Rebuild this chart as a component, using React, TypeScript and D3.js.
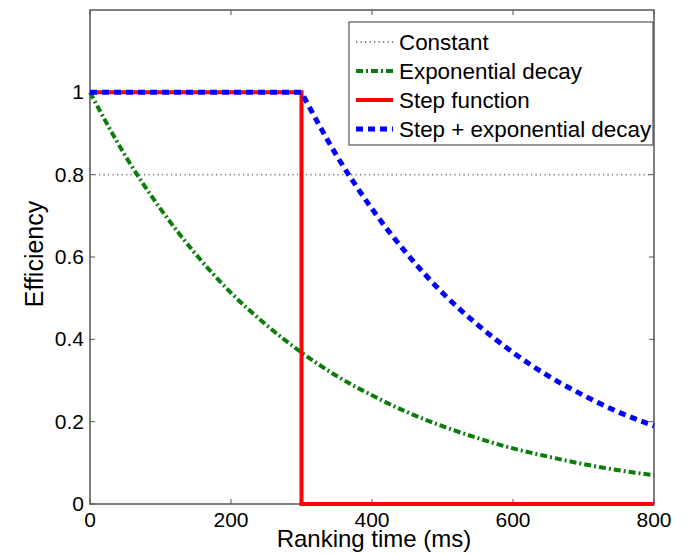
import React from "react";
import * as d3 from "d3";

const xTicks = [0, 200, 400, 600, 800];
const yTicks = [0, 0.2, 0.4, 0.6, 0.8, 1];
const yTickLabels = ["0", "0.2", "0.4", "0.6", "0.8", "1"];

const constantX = [0, 800];
const constantY = [0.8, 0.8];

const expX = [0, 50, 100, 150, 200, 250, 300, 350, 400, 450, 500, 550, 600, 650, 700, 750, 800];
const expY = [1, 0.846, 0.717, 0.607, 0.513, 0.435, 0.368, 0.311, 0.264, 0.223, 0.189, 0.16, 0.135, 0.115, 0.097, 0.082, 0.07];

const stepX = [0, 300, 300, 800];
const stepY = [1, 1, 0, 0];

const stepExpX = [0, 300, 350, 400, 450, 500, 550, 600, 650, 700, 750, 800];
const stepExpY = [1, 1, 0.846, 0.717, 0.607, 0.513, 0.435, 0.368, 0.311, 0.264, 0.223, 0.19];

const seriesNames = ["Constant", "Exponential decay", "Step function", "Step + exponential decay"];

const W = 689, H = 554;
const L = 90, R = 654, T = 10, B = 504;
const FONT = "'Liberation Sans', Arial, Helvetica, sans-serif";

export default function App() {
  const x = d3.scaleLinear().domain([0, 800]).range([L, R]);
  const y = d3.scaleLinear().domain([0, 1.2]).range([B, T]);

  const mk = (xs: number[], ys: number[], curve: any) =>
    d3.line<number>().x((_, i) => x(xs[i])).y((d) => y(d)).curve(curve)(ys) as string;

  // piecewise: linear until the knee (first index where x reaches 300), smooth afterwards
  const mkPiecewise = (xs: number[], ys: number[], knee: number) => {
    const k = xs.indexOf(knee);
    const a = mk(xs.slice(0, k + 1), ys.slice(0, k + 1), d3.curveLinear);
    const b = mk(xs.slice(k), ys.slice(k), d3.curveMonotoneX);
    return a + "L" + b.slice(1);
  };

  const styles = [
    { color: "#808080", width: 1.8, dash: "1.2,3.3" },
    { color: "#0a7d0a", width: 4, dash: "7,3,2,3" },
    { color: "#ff0000", width: 4, dash: "" },
    { color: "#0000ff", width: 5, dash: "7,5" },
  ];

  const paths = [
    mk(constantX, constantY, d3.curveLinear),
    mk(expX, expY, d3.curveMonotoneX),
    mk(stepX, stepY, d3.curveLinear),
    mkPiecewise(stepExpX, stepExpY, 300),
  ];

  const axisColor = "#555";
  const legX = 349, legY = 22, legW = 304, legH = 123;
  const legRows = [42, 71, 100, 129];

  return (
    <svg width={W} height={H} style={{ position: "absolute", left: 0, top: 0, background: "#fff" }} fontFamily={FONT}>
      <rect x={0} y={0} width={W} height={H} fill="#fff" />
      {/* box */}
      <rect x={L} y={T} width={R - L} height={B - T} fill="none" stroke={axisColor} strokeWidth={1.5} />
      {/* ticks */}
      {xTicks.map((t) => (
        <g key={"xt" + t}>
          <line x1={x(t)} x2={x(t)} y1={B} y2={B - 5} stroke={axisColor} strokeWidth={1} />
          <line x1={x(t)} x2={x(t)} y1={T} y2={T + 5} stroke={axisColor} strokeWidth={1} />
          <text x={x(t)} y={527} textAnchor="middle" fontSize={21} fill="#000">{t}</text>
        </g>
      ))}
      {yTicks.map((t, i) => (
        <g key={"yt" + t}>
          <line x1={L} x2={L + 5} y1={y(t)} y2={y(t)} stroke={axisColor} strokeWidth={1} />
          <line x1={R} x2={R - 5} y1={y(t)} y2={y(t)} stroke={axisColor} strokeWidth={1} />
          <text x={84} y={y(t) + 7} textAnchor="end" fontSize={21} fill="#000">{yTickLabels[i]}</text>
        </g>
      ))}
      {/* series */}
      {paths.map((p, i) => (
        <path key={"s" + i} d={p} fill="none" stroke={styles[i].color} strokeWidth={styles[i].width}
          strokeDasharray={styles[i].dash || undefined} />
      ))}
      {/* axis labels */}
      <text x={(L + R) / 2 + 2} y={547} textAnchor="middle" fontSize={24} fill="#000">Ranking time (ms)</text>
      <text transform={`translate(43,254) rotate(-90)`} textAnchor="middle" fontSize={25} fill="#000">Efficiency</text>
      {/* legend */}
      <rect x={legX} y={legY} width={legW} height={legH} fill="#fff" stroke={axisColor} strokeWidth={1.2} />
      {seriesNames.map((n, i) => (
        <g key={"lg" + i}>
          <line x1={356} x2={393} y1={legRows[i]} y2={legRows[i]} stroke={styles[i].color}
            strokeWidth={styles[i].width} strokeDasharray={styles[i].dash || undefined} />
          <text x={399} y={legRows[i] + 8} fontSize={22.4} fill="#000">{n}</text>
        </g>
      ))}
    </svg>
  );
}
